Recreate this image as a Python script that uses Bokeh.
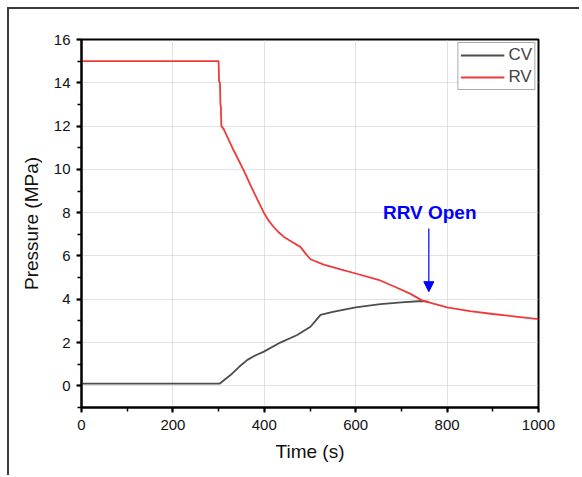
from bokeh.plotting import figure
from bokeh.models import Range1d, SingleIntervalTicker, Arrow, NormalHead
from bokeh.core.properties import value
from bokeh.embed import file_html
from bokeh.resources import INLINE

# ---- data ----
rv_time = [0, 300, 301, 303, 304, 305, 306, 311, 330, 355, 370, 385, 400, 410, 420, 430, 443,
           460, 479, 490, 501, 530, 567, 600, 650, 683, 720, 745, 770, 800, 850, 900, 950, 1000]
rv_pressure = [15.0, 15.0, 14.05, 14.0, 13.0, 12.9, 12.0, 11.87, 11.0, 9.95, 9.26, 8.6, 7.96,
               7.62, 7.35, 7.12, 6.88, 6.66, 6.42, 6.12, 5.85, 5.6, 5.38, 5.19, 4.9, 4.6, 4.25,
               3.95, 3.8, 3.63, 3.45, 3.32, 3.2, 3.08]
cv_time = [0, 302, 326, 345, 363, 380, 399, 435, 472, 501, 512, 523, 550, 600, 654, 700, 745, 760]
cv_pressure = [0.1, 0.1, 0.5, 0.88, 1.2, 1.4, 1.58, 2.0, 2.35, 2.73, 3.0, 3.28, 3.42, 3.63,
               3.78, 3.86, 3.92, 3.88]
note_text = ["RRV Open"]
note_x = [762]
note_y = [8.0]
arrow_x = 760
arrow_y_start = 7.27
arrow_y_end = 4.35

FONT = "Liberation Sans"

p = figure(width=572, height=468, output_backend="svg", toolbar_location=None,
           x_range=Range1d(0, 1000), y_range=Range1d(-1, 16),
           min_border_left=72, min_border_right=43, min_border_top=30, min_border_bottom=70)
p.margin = (7, 0, 0, 7)
p.styles = {"border-left": "2px solid #3a3a3a", "border-top": "2px solid #3a3a3a"}

p.line(cv_time, cv_pressure, line_color="#4d4d4d", line_width=1.8, legend_label="CV")
p.line(rv_time, rv_pressure, line_color="#f03a3a", line_width=1.8, legend_label="RV")

p.text(x=note_x, y=note_y, text=note_text, text_align="center", text_baseline="middle",
       text_font=value(FONT), text_font_style="bold", text_font_size="19px", text_color="#0000ff")
p.add_layout(Arrow(x_start=arrow_x, y_start=arrow_y_start, x_end=arrow_x, y_end=arrow_y_end,
                   line_color="#0000ff", line_width=1.2,
                   end=NormalHead(size=10, fill_color="#0000ff", line_color="#0000ff")))

p.xaxis.ticker = SingleIntervalTicker(interval=200, num_minor_ticks=2)
p.yaxis.ticker = SingleIntervalTicker(interval=2, num_minor_ticks=2)
p.xaxis.axis_label = "Time (s)"
p.yaxis.axis_label = "Pressure (MPa)"
for ax in (p.xaxis[0], p.yaxis[0]):
    ax.axis_line_width = 2
    ax.axis_line_color = "black"
    ax.major_tick_line_width = 2
    ax.minor_tick_line_width = 1.5
    ax.major_tick_out = 5
    ax.major_tick_in = 0
    ax.minor_tick_out = 4
    ax.minor_tick_in = 0
    ax.major_label_text_font = FONT
    ax.major_label_text_font_size = "15px"
    ax.major_label_text_color = "#111111"
    ax.axis_label_text_font = FONT
    ax.axis_label_text_font_size = "19px"
    ax.axis_label_text_font_style = "normal"
    ax.axis_label_text_color = "#111111"
p.xaxis.major_label_standoff = 7
p.yaxis.major_label_standoff = 6
p.xaxis.axis_label_standoff = 8
p.yaxis.axis_label_standoff = 9

p.outline_line_color = "black"
p.outline_line_width = 2
p.outline_line_alpha = 1

for g in (p.xgrid[0], p.ygrid[0]):
    g.grid_line_color = "#c4c4c4"
    g.grid_line_dash = "1 1"
    g.grid_line_width = 1

lg = p.legend[0]
lg.location = "top_right"
lg.margin = 3
lg.padding = 2
lg.spacing = 2
lg.border_line_color = "#555555"
lg.border_line_width = 1.2
lg.label_text_font = FONT
lg.label_text_font_size = "17px"
lg.label_standoff = 4
lg.glyph_width = 44
lg.glyph_height = 20
lg.label_height = 20

open("out.html", "w").write(file_html(p, INLINE))
